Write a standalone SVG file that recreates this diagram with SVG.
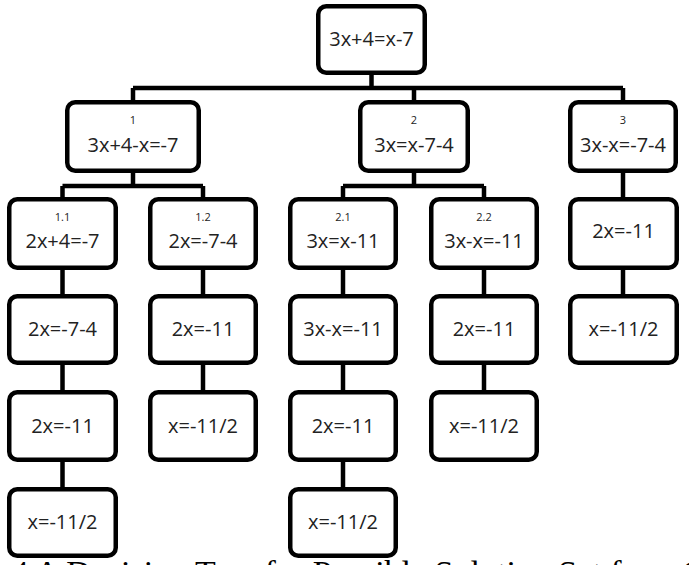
<svg xmlns="http://www.w3.org/2000/svg" width="689" height="565" viewBox="0 0 689 565">
<style>
.box{fill:#fff;stroke:#000;stroke-width:4.5}
.t{font-family:"Open Sans","Noto Sans",sans-serif;font-size:20px;fill:#222;text-anchor:middle}
.l{font-family:"Open Sans","Noto Sans",sans-serif;font-size:11px;fill:#222;text-anchor:middle}
.c{fill:none;stroke:#000;stroke-width:4.5}
.cap{font-family:"Liberation Serif","Times New Roman",serif;font-size:34px;fill:#000}
</style>
<rect width="689" height="565" fill="#fff"/>
<g id="connectors">
<path class="c" d="M371.5 73V88M133 88H623M133 88V102M414 88V102M623 88V102"/>
<path class="c" d="M133 171V186M62.5 186H203M62.5 186V199M203 186V199"/>
<path class="c" d="M414 171V186M343 186H484M343 186V199M484 186V199"/>
<path class="c" d="M623 171V199M623 268V296"/>
<path class="c" d="M62.5 268V296M62.5 363V392M62.5 460V489"/>
<path class="c" d="M203 268V296M203 363V392"/>
<path class="c" d="M343 268V296M343 363V392M343 460V489"/>
<path class="c" d="M484 268V296M484 363V392"/>
</g>
<g id="root"><rect class="box" x="318.25" y="6.25" width="106.5" height="66.5" rx="8"/><text class="t" x="371.5" y="46">3x+4=x-7</text></g>
<g id="n1"><rect class="box" x="67.25" y="102.25" width="131.5" height="68.5" rx="8"/><text class="l" x="133" y="124">1</text><text class="t" x="133" y="152">3x+4-x=-7</text></g>
<g id="n2"><rect class="box" x="360.25" y="102.25" width="107.5" height="68.5" rx="8"/><text class="l" x="414" y="124">2</text><text class="t" x="414" y="152">3x=x-7-4</text></g>
<g id="n3"><rect class="box" x="570.25" y="102.25" width="105.5" height="68.5" rx="8"/><text class="l" x="623" y="124">3</text><text class="t" x="623" y="152">3x-x=-7-4</text></g>
<g id="n11"><rect class="box" x="9.25" y="199.25" width="106.5" height="68.5" rx="8"/><text class="l" x="62.5" y="221">1.1</text><text class="t" x="62.5" y="248">2x+4=-7</text></g>
<g id="n12"><rect class="box" x="150.25" y="199.25" width="105.5" height="68.5" rx="8"/><text class="l" x="203" y="221">1.2</text><text class="t" x="203" y="248">2x=-7-4</text></g>
<g id="n21"><rect class="box" x="290.25" y="199.25" width="105.5" height="68.5" rx="8"/><text class="l" x="343" y="221">2.1</text><text class="t" x="343" y="248">3x=x-11</text></g>
<g id="n22"><rect class="box" x="431.25" y="199.25" width="105.5" height="68.5" rx="8"/><text class="l" x="484" y="221">2.2</text><text class="t" x="484" y="248">3x-x=-11</text></g>
<g id="n3a"><rect class="box" x="570.25" y="199.25" width="106.5" height="68.5" rx="8"/><text class="t" x="623.5" y="238">2x=-11</text></g>
<g id="n11a"><rect class="box" x="9.25" y="296.25" width="106.5" height="66.5" rx="8"/><text class="t" x="62.5" y="336">2x=-7-4</text></g>
<g id="n12a"><rect class="box" x="150.25" y="296.25" width="105.5" height="66.5" rx="8"/><text class="t" x="203" y="336">2x=-11</text></g>
<g id="n21a"><rect class="box" x="290.25" y="296.25" width="105.5" height="66.5" rx="8"/><text class="t" x="343" y="336">3x-x=-11</text></g>
<g id="n22a"><rect class="box" x="431.25" y="296.25" width="105.5" height="66.5" rx="8"/><text class="t" x="484" y="336">2x=-11</text></g>
<g id="n3b"><rect class="box" x="570.25" y="296.25" width="106.5" height="66.5" rx="8"/><text class="t" x="623.5" y="336">x=-11/2</text></g>
<g id="n11b"><rect class="box" x="9.25" y="392.25" width="106.5" height="67.5" rx="8"/><text class="t" x="62.5" y="433">2x=-11</text></g>
<g id="n12b"><rect class="box" x="150.25" y="392.25" width="105.5" height="67.5" rx="8"/><text class="t" x="203" y="433">x=-11/2</text></g>
<g id="n21b"><rect class="box" x="290.25" y="392.25" width="105.5" height="67.5" rx="8"/><text class="t" x="343" y="433">2x=-11</text></g>
<g id="n22b"><rect class="box" x="431.25" y="392.25" width="105.5" height="67.5" rx="8"/><text class="t" x="484" y="433">x=-11/2</text></g>
<g id="n11c"><rect class="box" x="9.25" y="489.25" width="106.5" height="66.5" rx="8"/><text class="t" x="62.5" y="529">x=-11/2</text></g>
<g id="n21c"><rect class="box" x="290.25" y="489.25" width="105.5" height="66.5" rx="8"/><text class="t" x="343" y="529">x=-11/2</text></g>
<text class="cap" x="11.5" y="584">4 A Decision Tree for Possible Solution Set for a Given</text>
</svg>
